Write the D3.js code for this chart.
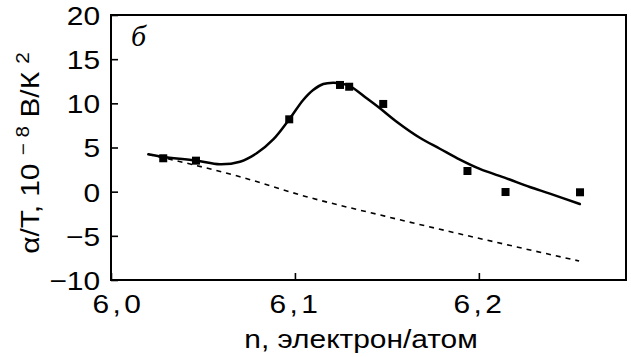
<!DOCTYPE html>
<html>
<head>
<meta charset="utf-8">
<script src="https://cdn.jsdelivr.net/npm/d3@7"></script>
<style>
  html, body { margin: 0; padding: 0; background: #fff; }
  svg text { font-family: "Liberation Sans", Arial, sans-serif; fill: #000; }
</style>
</head>
<body>
<svg id="chart" width="631" height="357"></svg>
<script>
// Measured points: electron concentration n vs. α/T
const nMeasured = [6.0284, 6.0462, 6.0969, 6.1245, 6.1295, 6.1480, 6.1938, 6.2145, 6.2550];
const aMeasured = [3.78, 3.51, 8.19, 12.08, 11.88, 9.93, 2.34, -0.04, -0.07];

// Calculated curve (solid)
const nCalc = [6.0203, 6.0283, 6.0462, 6.0592, 6.0701, 6.0792, 6.0882, 6.0969, 6.1045, 6.1099,
               6.1154, 6.1208, 6.1245, 6.1299, 6.1390, 6.1462, 6.1553, 6.1679, 6.1788, 6.1897,
               6.2005, 6.2150, 6.2277, 6.2386, 6.2549];
const aCalc = [4.23, 3.93, 3.53, 3.10, 3.39, 4.34, 5.91, 8.19, 10.38, 11.51,
               12.19, 12.34, 12.27, 11.96, 10.57, 9.44, 7.92, 6.10, 4.86, 3.62,
               2.57, 1.51, 0.53, -0.22, -1.40];

// Background contribution (dashed)
const nBase = [6.0203, 6.0701, 6.1063, 6.1489, 6.2545];
const aBase = [4.23, 1.69, -0.57, -2.77, -7.85];

// Axis ticks
const xTicks = [6.0, 6.1, 6.2];
const xTickLabels = ["6,0", "6,1", "6,2"];
const yTicks = [-10, -5, 0, 5, 10, 15, 20];

const svg = d3.select("#chart");
const plotLeft = 111, plotRight = 626, plotTop = 15, plotBottom = 280;
const stretch = 1.15;

const x = d3.scaleLinear().domain([6.0, 6.28]).range([plotLeft, plotRight]);
const y = d3.scaleLinear().domain([-10, 20]).range([plotBottom, plotTop]);

// Y axis with inward ticks
const yAxis = svg.append("g")
  .attr("transform", `translate(${plotLeft},0)`)
  .call(d3.axisLeft(y).tickValues(yTicks).tickSize(-7).tickSizeOuter(0).tickPadding(9.5)
        .tickFormat(d => (d < 0 ? "\u2212" : "") + Math.abs(d)));
yAxis.select(".domain").remove();
yAxis.selectAll(".tick line").attr("stroke", "#000").attr("stroke-width", 1.6);
yAxis.selectAll("text")
  .attr("font-size", 26)
  .attr("transform", `scale(${stretch},1)`)
  .attr("dy", "0.36em");

// X axis with inward ticks
const xAxis = svg.append("g")
  .attr("transform", `translate(0,${plotBottom})`)
  .call(d3.axisBottom(x).tickValues(xTicks).tickSize(-7).tickSizeOuter(0).tickPadding(15)
        .tickFormat((d, i) => xTickLabels[i]));
xAxis.select(".domain").remove();
xAxis.selectAll(".tick line").attr("stroke", "#000").attr("stroke-width", 1.6);
xAxis.selectAll("text")
  .attr("font-size", 26)
  .attr("letter-spacing", 3)
  .attr("transform", `scale(${stretch},1)`);
xAxis.selectAll("text").filter((d, i) => i === 0).attr("dx", 6);

// Frame
svg.append("rect")
  .attr("x", plotLeft).attr("y", plotTop)
  .attr("width", plotRight - plotLeft).attr("height", plotBottom - plotTop)
  .attr("fill", "none").attr("stroke", "#000").attr("stroke-width", 2);

// Dashed background line
const baseLine = d3.line()
  .x((d, i) => x(nBase[i])).y((d, i) => y(aBase[i]))
  .curve(d3.curveMonotoneX);
svg.append("path")
  .attr("d", baseLine(nBase))
  .attr("fill", "none").attr("stroke", "#000")
  .attr("stroke-width", 1.6).attr("stroke-dasharray", "5,5");

// Solid calculated curve
const calcLine = d3.line()
  .x((d, i) => x(nCalc[i])).y((d, i) => y(aCalc[i]))
  .curve(d3.curveCatmullRom.alpha(0.5));
svg.append("path")
  .attr("d", calcLine(nCalc))
  .attr("fill", "none").attr("stroke", "#000")
  .attr("stroke-width", 2.5).attr("stroke-linecap", "round");

// Measured points as squares
const sq = 8;
svg.append("g").selectAll("rect")
  .data(nMeasured)
  .join("rect")
  .attr("x", (d) => x(d) - sq / 2)
  .attr("y", (d, i) => y(aMeasured[i]) - sq / 2)
  .attr("width", sq).attr("height", sq)
  .attr("fill", "#000");

// Panel letter
svg.append("text")
  .attr("x", 131).attr("y", 46)
  .attr("font-style", "italic")
  .attr("font-size", 30)
  .style("font-family", "'Liberation Serif', serif")
  .text("б");

// X axis title
svg.append("text")
  .attr("transform", `translate(361,348) scale(${stretch},1)`)
  .attr("text-anchor", "middle")
  .attr("font-size", 26)
  .text("n, электрон/атом");

// Y axis title
const yt = svg.append("text")
  .attr("transform", `translate(39,153) rotate(-90) scale(${stretch},1)`)
  .attr("text-anchor", "middle")
  .attr("font-size", 26);
yt.append("tspan").text("α/T, 10 ");
yt.append("tspan").attr("font-size", 18).attr("dy", -10).text("\u2212 8");
yt.append("tspan").attr("dy", 10).text(" В/К ");
yt.append("tspan").attr("font-size", 18).attr("dy", -10).text("2");
</script>
</body>
</html>
